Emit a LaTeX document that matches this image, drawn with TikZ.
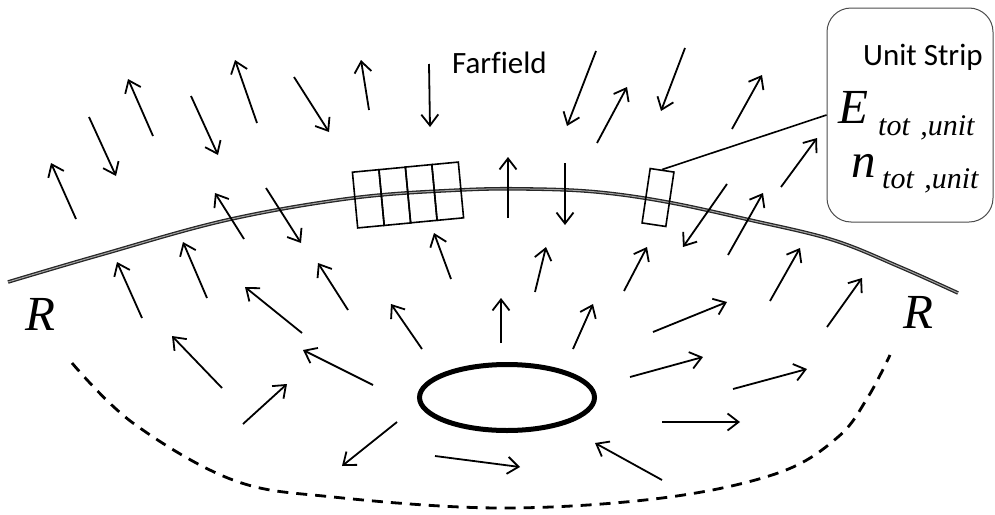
\documentclass[tikz,border=0pt]{standalone}
\usepackage{fontspec}
\setmainfont{Liberation Serif}
\newfontfamily\labfont[Ligatures=NoCommon]{Carlito}
\newfontfamily\timesit{Liberation Serif Italic}
\usetikzlibrary{arrows.meta}
\tikzset{
  vec/.style={line width=1.8pt, -{Straight Barb[length=11pt,width=17pt,line width=1.8pt]}},
  cellbox/.style={draw, line width=1.6pt, inner sep=0pt, minimum width=26.6pt, minimum height=56pt, rotate=5.4},
  lab/.style={inner sep=0pt, anchor=base west, font=\labfont\fontsize{31}{31}\selectfont},
  big/.style={inner sep=0pt, anchor=base west, font=\timesit\fontsize{49}{49}\selectfont},
  sub/.style={inner sep=0pt, anchor=base west, font=\timesit\fontsize{30}{30}\selectfont}
}
\begin{document}
\begin{tikzpicture}[x=1pt,y=-1pt]
\useasboundingbox (0,0) rectangle (995,514);
% surface (double line)
\draw[draw=black!85, line width=1.3pt, double=gray!70, double distance=1pt]
  plot[smooth, tension=0.6] coordinates {(8,282) (100,255) (227,220) (353,198) (460,190) (530,189) (597,192) (667,202) (750,220) (833,240) (900,267) (958,293)};
% dashed lower curve
\draw[line width=2.8pt, dash pattern=on 11pt off 8pt]
  plot[smooth, tension=0.6] coordinates {(72,363) (133,423) (233,480) (333,497) (500,508) (662,498) (778,473) (838,437) (868,397) (890,355)};
% source ellipse
\draw[line width=5pt] (507,397.5) ellipse [x radius=87.5, y radius=33];
% four cells on the surface
\node[cellbox] (c1) at (368.3,198.8) {};
\node[cellbox] (c2) at (394.8,196.3) {};
\node[cellbox] (c3) at (421.2,193.7) {};
\node[cellbox] (c4) at (447.7,191.2) {};
% unit strip
\node[draw, line width=1.6pt, inner sep=0pt, minimum width=24pt, minimum height=55pt, rotate=-8.5] (strip) at (658,197.5) {};
% info box
\node[draw=black!70, line width=1pt, rounded corners=24pt, inner sep=0pt, minimum width=166pt, minimum height=214pt] (ubox) at (910,115) {};
\draw[line width=1.6pt] (strip.north) -- (ubox.west);
% texts
\node[lab] (ff) at (452,73) {Farfield};
\node[lab] (us) at (863,65) {Unit Strip};
\node[big] (E) at (838,123) {E};
\node[sub] (Es) at (878,135) {tot\hspace{0.35em},unit};
\node[big] (n) at (851,177) {n};
\node[sub] (ns) at (882,188) {tot\hspace{0.35em},unit};
\node[big] (R1) at (25,330) {R};
\node[big] (R2) at (903,328) {R};
% field vectors
\foreach \a/\b/\c/\d in {
 76/219/51/163, 89/117/116/176, 153/136/128/79, 191/96/218/155, 257/123/235/60,
 294/77/329/132, 369/110/361/60, 429/64/430/127, 244/239/215/193, 266/188/301/243,
 596/51/567/126, 597/143/627/87, 685/48/661/111, 732/129/762/75, 508/218/508/157,
 565/163/565/225, 727/184/683/247, 781/187/817/138, 728/255/763/193, 624/291/647/247,
 770/301/800/248, 827/327/862/278, 653/332/727/302, 535/292/546/247, 501/343/501/298,
 573/349/593/304, 630/377/703/357, 733/389/807/369, 662/422/740/422, 662/480/595/443,
 435/456/520/467, 142/318/117/262, 207/298/183/242, 302/333/245/287, 348/310/318/263,
 422/349/391/304, 451/279/434/233, 222/388/172/336, 243/424/287/384, 373/385/303/350,
 397/422/342/466}
 \draw[vec] (\a,\b) -- (\c,\d);
\end{tikzpicture}
\end{document}
